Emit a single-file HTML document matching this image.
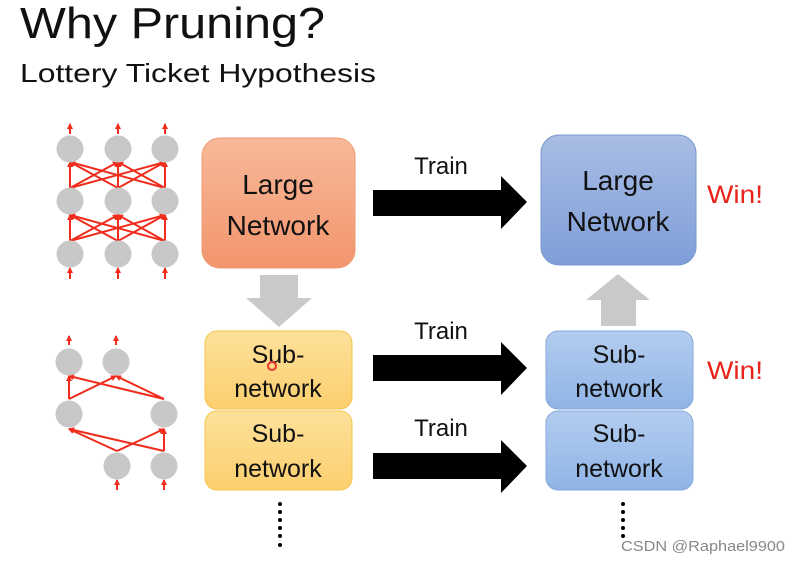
<!DOCTYPE html>
<html><head><meta charset="utf-8"><style>
body{margin:0;background:#fff;width:798px;height:562px;overflow:hidden}
svg{display:block}
text{font-family:"Liberation Sans",sans-serif}
</style></head><body>
<svg width="798" height="562" viewBox="0 0 798 562" xmlns="http://www.w3.org/2000/svg">
<defs>
<linearGradient id="og" x1="0" y1="0" x2="0" y2="1"><stop offset="0" stop-color="#f8b99a"/><stop offset="1" stop-color="#f2956d"/></linearGradient>
<linearGradient id="yg" x1="0" y1="0" x2="0" y2="1"><stop offset="0" stop-color="#fde19a"/><stop offset="1" stop-color="#fccf6e"/></linearGradient>
<linearGradient id="bg" x1="0" y1="0" x2="0" y2="1"><stop offset="0" stop-color="#a9bde4"/><stop offset="1" stop-color="#7f9ed8"/></linearGradient>
<linearGradient id="lb" x1="0" y1="0" x2="0" y2="1"><stop offset="0" stop-color="#b3cdef"/><stop offset="1" stop-color="#8fb4e6"/></linearGradient>
<marker id="ah" markerWidth="6" markerHeight="6" refX="5" refY="3" orient="auto" markerUnits="userSpaceOnUse"><path d="M0,0 L6,3 L0,6z" fill="#f02c1c"/></marker>
</defs>
<text x="20" y="38" font-size="44" fill="#111" textLength="305" lengthAdjust="spacingAndGlyphs">Why Pruning?</text>
<text x="20" y="82" font-size="26" fill="#111" textLength="356" lengthAdjust="spacingAndGlyphs">Lottery Ticket Hypothesis</text>

<!-- top network -->
<g stroke="#f02c1c" stroke-width="2" marker-end="url(#ah)">
<line x1="70" y1="134" x2="70" y2="124"/><line x1="118" y1="134" x2="118" y2="124"/><line x1="165" y1="134" x2="165" y2="124"/>
<line x1="70" y1="279" x2="70" y2="268"/><line x1="118" y1="279" x2="118" y2="268"/><line x1="165" y1="279" x2="165" y2="268"/>
<line x1="70" y1="188" x2="70" y2="162"/><line x1="70" y1="188" x2="118" y2="162"/><line x1="70" y1="188" x2="165" y2="162"/>
<line x1="118" y1="188" x2="70" y2="162"/><line x1="118" y1="188" x2="118" y2="162"/><line x1="118" y1="188" x2="165" y2="162"/>
<line x1="165" y1="188" x2="70" y2="162"/><line x1="165" y1="188" x2="118" y2="162"/><line x1="165" y1="188" x2="165" y2="162"/>
<line x1="70" y1="241" x2="70" y2="215"/><line x1="70" y1="241" x2="118" y2="215"/><line x1="70" y1="241" x2="165" y2="215"/>
<line x1="118" y1="241" x2="70" y2="215"/><line x1="118" y1="241" x2="118" y2="215"/><line x1="118" y1="241" x2="165" y2="215"/>
<line x1="165" y1="241" x2="70" y2="215"/><line x1="165" y1="241" x2="118" y2="215"/><line x1="165" y1="241" x2="165" y2="215"/>
</g>
<g fill="#c8c8c8">
<circle cx="70" cy="149" r="13.5"/><circle cx="118" cy="149" r="13.5"/><circle cx="165" cy="149" r="13.5"/>
<circle cx="70" cy="201" r="13.5"/><circle cx="118" cy="201" r="13.5"/><circle cx="165" cy="201" r="13.5"/>
<circle cx="70" cy="254" r="13.5"/><circle cx="118" cy="254" r="13.5"/><circle cx="165" cy="254" r="13.5"/>
</g>
<!-- bottom network -->
<g stroke="#f02c1c" stroke-width="2" marker-end="url(#ah)">
<line x1="69" y1="345" x2="69" y2="336"/><line x1="116" y1="345" x2="116" y2="336"/>
<line x1="117" y1="490" x2="117" y2="480"/><line x1="164" y1="490" x2="164" y2="480"/>
<line x1="69" y1="399" x2="69" y2="376"/><line x1="69" y1="399" x2="116" y2="376"/>
<line x1="164" y1="399" x2="69" y2="376"/><line x1="164" y1="399" x2="116" y2="376"/>
<line x1="117" y1="451" x2="69" y2="429"/><line x1="117" y1="451" x2="164" y2="429"/>
<line x1="164" y1="451" x2="69" y2="429"/><line x1="164" y1="451" x2="164" y2="429"/>
</g>
<g fill="#c8c8c8">
<circle cx="69" cy="362" r="13.5"/><circle cx="116" cy="362" r="13.5"/>
<circle cx="69" cy="414" r="13.5"/><circle cx="164" cy="414" r="13.5"/>
<circle cx="117" cy="466" r="13.5"/><circle cx="164" cy="466" r="13.5"/>
</g>

<!-- orange / yellow -->
<rect x="202" y="138" width="153" height="130" rx="18" fill="url(#og)" stroke="#eb9b74"/>
<text x="278" y="194" font-size="28" text-anchor="middle" fill="#111">Large</text>
<text x="278" y="235" font-size="28" text-anchor="middle" fill="#111">Network</text>
<polygon points="260,275 298,275 298,298 312,298 279,327 246,298 260,298" fill="#c9c9c9"/>
<rect x="205" y="331" width="147" height="78" rx="12" fill="url(#yg)" stroke="#f5c44f"/>
<text x="278" y="363" font-size="25" text-anchor="middle" fill="#111">Sub-</text>
<text x="278" y="397" font-size="25" text-anchor="middle" fill="#111">network</text>
<circle cx="272" cy="366" r="4" fill="none" stroke="#e33" stroke-width="2"/>
<rect x="205" y="411" width="147" height="79" rx="12" fill="url(#yg)" stroke="#f5c44f"/>
<text x="278" y="442" font-size="25" text-anchor="middle" fill="#111">Sub-</text>
<text x="278" y="477" font-size="25" text-anchor="middle" fill="#111">network</text>

<!-- black arrows -->
<text x="441" y="174" font-size="24" text-anchor="middle" fill="#111">Train</text>
<polygon points="373,190 501,190 501,176 527,202 501,229 501,216 373,216" fill="#000"/>
<text x="441" y="339" font-size="24" text-anchor="middle" fill="#111">Train</text>
<polygon points="373,355 501,355 501,342 527,368 501,395 501,381 373,381" fill="#000"/>
<text x="441" y="436" font-size="24" text-anchor="middle" fill="#111">Train</text>
<polygon points="373,453 501,453 501,440 527,466 501,493 501,479 373,479" fill="#000"/>

<!-- blue -->
<rect x="541" y="135" width="155" height="130" rx="18" fill="url(#bg)" stroke="#7a98cf"/>
<text x="618" y="190" font-size="28" text-anchor="middle" fill="#111">Large</text>
<text x="618" y="231" font-size="28" text-anchor="middle" fill="#111">Network</text>
<polygon points="618,274 650,300 636,300 636,326 601,326 601,300 586,300" fill="#c9c9c9"/>
<rect x="546" y="331" width="147" height="78" rx="12" fill="url(#lb)" stroke="#86a9dd"/>
<text x="619" y="363" font-size="25" text-anchor="middle" fill="#111">Sub-</text>
<text x="619" y="397" font-size="25" text-anchor="middle" fill="#111">network</text>
<rect x="546" y="411" width="147" height="79" rx="12" fill="url(#lb)" stroke="#86a9dd"/>
<text x="619" y="442" font-size="25" text-anchor="middle" fill="#111">Sub-</text>
<text x="619" y="477" font-size="25" text-anchor="middle" fill="#111">network</text>

<text x="707" y="203" font-size="25" fill="#e8241a" textLength="56" lengthAdjust="spacingAndGlyphs">Win!</text>
<text x="707" y="379" font-size="25" fill="#e8241a" textLength="56" lengthAdjust="spacingAndGlyphs">Win!</text>

<g fill="#000">
<circle cx="280" cy="504" r="2"/><circle cx="280" cy="512" r="2"/><circle cx="280" cy="520" r="2"/><circle cx="280" cy="528" r="2"/><circle cx="280" cy="536" r="2"/><circle cx="280" cy="545" r="2"/>
<circle cx="623" cy="504" r="2"/><circle cx="623" cy="512" r="2"/><circle cx="623" cy="520" r="2"/><circle cx="623" cy="528" r="2"/><circle cx="623" cy="536" r="2"/>
</g>
<text x="621" y="551" font-size="15" fill="#888" textLength="164" lengthAdjust="spacingAndGlyphs">CSDN @Raphael9900</text>
</svg>
</body></html>
